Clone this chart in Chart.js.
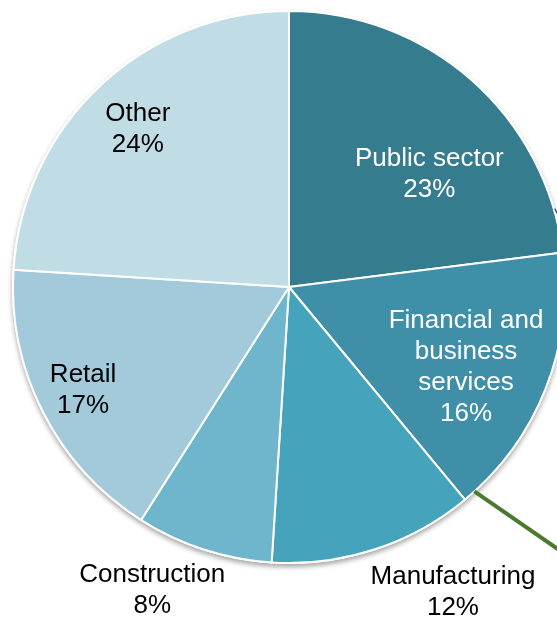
<!DOCTYPE html>
<html lang="en">
<head>
    <meta charset="UTF-8">
    <title>Employment by sector</title>
    <script src="https://cdn.jsdelivr.net/npm/chart.js"></script>
    <style>
        body {
            margin: 0;
            overflow: hidden;
            background: #fff;
            font-family: "Liberation Sans", Arial, sans-serif;
        }
    </style>
</head>
<body>
    <canvas id="sectorChart" width="578" height="617"></canvas>
    <script>
        const sectors = ['Public sector', 'Financial and business services', 'Manufacturing', 'Construction', 'Retail', 'Other'];
        const shares = [23, 16, 12, 8, 17, 24];
        const labelLines = [
            ['Public sector'],
            ['Financial and', 'business', 'services'],
            ['Manufacturing'],
            ['Construction'],
            ['Retail'],
            ['Other']
        ];
        const colours = ['#367c8f', '#3f8fa8', '#45a4bc', '#6fb5cc', '#a2cada', '#c0dce5'];

        // where each label sits: shift from the slice's mid angle (deg) and distance as a share of the radius
        const placement = [
            { shift: 9, r: 0.66, color: '#fff' },
            { shift: 2, r: 0.70, color: '#fff' },
            { shift: -10.5, r: 1.245, color: '#000' },
            { shift: 6.5, r: 1.195, color: '#000' },
            { shift: 1, r: 0.83, color: '#000' },
            { shift: 0, r: 0.80, color: '#000' }
        ];

        const pieExtras = {
            id: 'pieExtras',
            beforeDatasetsDraw(chart) {
                const arc = chart.getDatasetMeta(0).data[0];
                const ctx = chart.ctx;
                ctx.save();
                ctx.shadowColor = 'rgba(0,0,0,0.35)';
                ctx.shadowBlur = 5;
                ctx.shadowOffsetY = 3;
                ctx.fillStyle = '#fff';
                ctx.beginPath();
                ctx.arc(arc.x, arc.y, arc.outerRadius + 1, 0, Math.PI * 2);
                ctx.fill();
                ctx.restore();
            },
            afterDatasetsDraw(chart) {
                const ctx = chart.ctx;
                const arcs = chart.getDatasetMeta(0).data;
                const cx = arcs[0].x, cy = arcs[0].y, R = arcs[0].outerRadius;

                // callout lines running off to the right
                const edge = (deg, k) => {
                    const a = (deg - 90) * Math.PI / 180;
                    return [cx + Math.cos(a) * R * k, cy + Math.sin(a) * R * k];
                };
                ctx.save();
                ctx.strokeStyle = '#4a7a2c';
                ctx.lineWidth = 4;
                let p = edge(137.8, 1.0);
                ctx.beginPath();
                ctx.moveTo(p[0], p[1]);
                ctx.lineTo(p[0] + 110, p[1] + 76);
                ctx.stroke();
                ctx.strokeStyle = '#555';
                ctx.lineWidth = 1.5;
                p = edge(73.5, 1.0);
                ctx.beginPath();
                ctx.moveTo(p[0] + 1, p[1]);
                ctx.lineTo(p[0] + 10, p[1] + 16);
                ctx.stroke();
                ctx.restore();

                ctx.save();
                ctx.font = '26px "Liberation Sans", Arial, sans-serif';
                ctx.textAlign = 'center';
                ctx.textBaseline = 'middle';
                const lineH = 31;
                arcs.forEach((el, i) => {
                    const mid = (el.startAngle + el.endAngle) / 2 + placement[i].shift * Math.PI / 180;
                    const x = cx + Math.cos(mid) * R * placement[i].r;
                    const y = cy + Math.sin(mid) * R * placement[i].r + 3;
                    const lines = labelLines[i].concat([shares[i] + '%']);
                    const top = y - (lines.length - 1) * lineH / 2;
                    ctx.fillStyle = placement[i].color;
                    lines.forEach((t, j) => ctx.fillText(t, x, top + j * lineH));
                });
                ctx.restore();
            }
        };

        const ctx = document.getElementById('sectorChart').getContext('2d');
        new Chart(ctx, {
            type: 'pie',
            data: {
                labels: sectors,
                datasets: [{
                    data: shares,
                    backgroundColor: colours,
                    borderColor: '#fff',
                    borderWidth: 2,
                    hoverOffset: 0
                }]
            },
            options: {
                responsive: false,
                animation: false,
                layout: { padding: { top: 10, left: 12, right: 12, bottom: 53 } },
                plugins: {
                    legend: { display: false },
                    tooltip: { enabled: false }
                }
            },
            plugins: [pieExtras]
        });
    </script>
</body>
</html>
